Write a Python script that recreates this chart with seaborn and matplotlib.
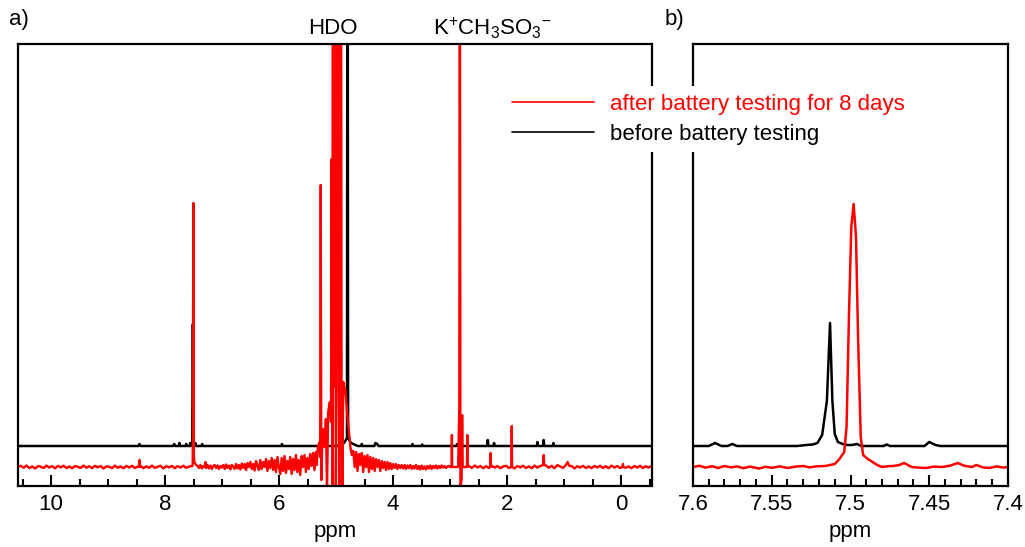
import numpy as np
import matplotlib
matplotlib.use("Agg")
import matplotlib.pyplot as plt
import matplotlib.transforms as mtransforms
from matplotlib.lines import Line2D
from matplotlib.ticker import MultipleLocator
import seaborn as sns

# ---------------- data (ppm, intensity relative to each trace's own baseline) ----------------
# panel a) full spectrum, before battery testing (black)
before_full = [
    (10.58, 0.00), (8.47, 0.00), (8.45, 0.02), (8.43, 0.00),
    (7.86, 0.00), (7.84, 0.02), (7.82, 0.00), (7.76, 0.00), (7.75, 0.03), (7.74, 0.00),
    (7.64, 0.00), (7.63, 0.02), (7.62, 0.00), (7.57, 0.00), (7.56, 0.03), (7.55, 0.00),
    (7.525, 0.01), (7.513, 1.22), (7.50, 0.01), (7.48, 0.00), (7.47, 0.03), (7.46, 0.00),
    (7.36, 0.00), (7.35, 0.02), (7.34, 0.00), (5.96, 0.00), (5.95, 0.02), (5.94, 0.00),
    (4.98, 0.00), (4.86, 0.03), (4.81, 0.08), (4.80, 8.00), (4.79, 0.08), (4.74, 0.03),
    (4.62, 0.00), (4.56, 0.00), (4.55, 0.02), (4.54, 0.00), (4.33, 0.00), (4.31, 0.03),
    (4.28, 0.02), (4.26, 0.00), (3.67, 0.00), (3.66, 0.02), (3.65, 0.00), (3.50, 0.00),
    (3.49, 0.015), (3.48, 0.00), (2.89, 0.00), (2.88, 0.02), (2.86, 0.00), (2.84, 0.03),
    (2.82, 0.00), (2.35, 0.00), (2.34, 0.06), (2.33, 0.00), (2.24, 0.00), (2.23, 0.03),
    (2.22, 0.00), (1.48, 0.00), (1.47, 0.04), (1.46, 0.00), (1.37, 0.00), (1.36, 0.06),
    (1.35, 0.00), (1.20, 0.00), (1.19, 0.03), (1.18, 0.00), (-0.54, 0.00),
]

# panel a) after battery testing (red): baseline noise,
# stored as (start ppm, ppm step, intensities) on the spectrometer's even grid
after_noise_a = (10.58, -0.05, [
    0.00, 0.012, -0.008, 0.015, -0.012, 0.006, -0.015, 0.010, 0.002, -0.010, 0.014, -0.006,
    0.009, -0.014, 0.011, -0.004, 0.013, -0.011, 0.005, -0.013, 0.010, 0.000, -0.009, 0.015,
    -0.007, 0.008, -0.012, 0.012, -0.003, 0.010, -0.015, 0.007, 0.001, -0.011, 0.014, -0.008,
    0.006, -0.013, 0.011, -0.005, 0.012, -0.010, 0.004])
after_noise_b = (8.43, -0.05, [
    0.010, -0.012, 0.006, -0.008, 0.014, -0.010, 0.003, 0.012, -0.014, 0.008, -0.004, 0.011,
    -0.012, 0.009, -0.006, 0.013, -0.009, 0.005, 0.010])
after_noise_c = (7.48, -0.025, [
    0.04, 0.02, 0.01, -0.01, 0.02, -0.015, 0.01, 0.00,
    -0.01, 0.02, -0.015, 0.015, -0.02, 0.01, 0.02, -0.01, 0.015, -0.02, 0.01, -0.005,
    0.02, -0.02, 0.025, -0.01, 0.015, -0.025, 0.02, 0.005, -0.02, 0.03, -0.015, 0.02,
    -0.025, 0.035, -0.01, 0.03, -0.03, 0.04, 0.00, 0.05, -0.02, 0.03, -0.035, 0.06,
    0.01, -0.03, 0.07, -0.02, 0.05, 0.00, 0.08, -0.04, 0.06, -0.01, 0.09, -0.03,
    0.07, -0.05, 0.10, 0.00, -0.07, 0.09, -0.04, 0.11, -0.06, 0.06, -0.02, 0.10,
    -0.07, 0.08, -0.03, 0.12, -0.05, 0.07, -0.08, 0.11, 0.00, 0.12, -0.05, 0.09,
    -0.02, 0.13, 0.01, 0.14, -0.03, 0.15])
after_noise_d = (4.75, -0.025, [
    0.20, 0.12, 0.16, 0.00, 0.15, -0.04, 0.13, 0.02, 0.14, -0.05, 0.11, 0.00,
    0.12, -0.05, 0.10, -0.02, 0.09, -0.04, 0.08, 0.00, 0.07, -0.04, 0.06, -0.01,
    0.05, -0.03, 0.05, -0.02, 0.04, -0.02, 0.03, -0.01, 0.03, -0.02, 0.02, -0.01,
    0.02, -0.015, 0.02, -0.02, 0.015, -0.01, 0.02, -0.02, 0.01, -0.015, 0.02, -0.02,
    0.01, -0.025, 0.015, -0.02, 0.005, -0.025, 0.01, -0.015, 0.015, -0.02, 0.01, -0.01,
    0.015, -0.015, 0.01, -0.01, 0.015, -0.005, 0.01, -0.01, 0.005, 0.01, 0.00])
after_noise_e = (2.67, -0.05, [
    0.01, -0.01, 0.015, -0.005, 0.01, -0.012, 0.008, -0.01, 0.012, -0.006,
    0.01, -0.012, 0.006, 0.012, -0.01, 0.008, -0.014, 0.01, -0.004, 0.012,
    -0.01, 0.006, -0.012, 0.014, -0.006, 0.01, -0.01, 0.016, -0.008, 0.012,
    -0.012, 0.02, 0.005, -0.01, 0.012, -0.008, 0.01, -0.014, 0.008, -0.006,
    0.012, -0.01, 0.006, -0.012, 0.01, -0.004, 0.012, -0.01, 0.008, -0.012,
    0.014, -0.006, 0.01, -0.01, 0.012, -0.008, 0.006, -0.012, 0.01, -0.005,
    0.012, -0.01, 0.008, -0.006, 0.01])

# red peaks (explicit vertices)
after_peaks = [
    [(8.46, 0.00), (8.45, 0.07), (8.44, 0.00)],
    [(7.52, 0.01), (7.515, 0.05), (7.505, 2.64), (7.495, 0.12), (7.488, 0.05)],
    [(7.295, 0.00), (7.29, 0.05), (7.285, 0.00)],
    [(5.34, 0.02), (5.32, 0.20), (5.29, 0.25), (5.28, 0.10), (5.27, 2.82), (5.26, -0.13),
     (5.24, 0.30), (5.22, 0.38), (5.20, 0.20), (5.18, 0.48), (5.16, -0.25), (5.14, 0.55),
     (5.11, 0.65), (5.09, 0.45), (5.08, 3.08), (5.07, 0.70), (5.065, -0.25), (5.06, 6.00),
     (5.045, 6.00), (5.035, 0.80), (5.02, 6.00), (5.005, -0.25), (4.99, 0.90), (4.975, 6.00),
     (4.96, 6.00), (4.945, -0.25), (4.93, 6.00), (4.915, 6.00), (4.905, 0.90), (4.89, -0.20),
     (4.875, 0.85), (4.84, 0.77), (4.80, 0.50), (4.77, 0.32)],
    [(2.975, 0.00), (2.97, 0.32), (2.965, 0.00)],
    [(2.86, 0.00), (2.84, 0.60), (2.83, 6.00), (2.82, -0.20), (2.80, -0.13), (2.79, 0.52),
     (2.78, 0.00)],
    [(2.705, 0.00), (2.70, 0.32), (2.695, 0.00)],
    [(2.295, 0.00), (2.29, 0.14), (2.285, 0.00)],
    [(1.925, 0.00), (1.92, 0.41), (1.915, 0.00)],
    [(1.37, 0.02), (1.36, 0.12), (1.35, 0.02)],
    [(0.97, 0.02), (0.94, 0.05), (0.91, 0.01)],
    [(-0.02, 0.00), (-0.03, 0.03), (-0.04, 0.00)],
]

# panel b) zoom 7.6-7.4 ppm
before_zoom = [
    (7.600, 0.000), (7.590, 0.000), (7.586, 0.030), (7.582, 0.000), (7.578, 0.000),
    (7.575, 0.020), (7.572, 0.000), (7.534, 0.000), (7.528, 0.010), (7.524, 0.015),
    (7.521, 0.030), (7.518, 0.110), (7.515, 0.450), (7.513, 1.230), (7.5115, 0.450),
    (7.510, 0.120), (7.508, 0.040), (7.505, 0.020), (7.502, 0.010), (7.499, 0.010),
    (7.496, 0.020), (7.493, 0.000), (7.479, 0.000), (7.477, 0.015), (7.475, 0.000),
    (7.453, 0.000), (7.450, 0.040), (7.446, 0.010), (7.443, 0.000), (7.400, 0.000),
]
after_zoom = [
    (7.600, 0.000), (7.596, 0.012), (7.592, -0.006), (7.588, 0.008), (7.584, -0.010),
    (7.580, 0.010), (7.576, -0.004), (7.572, 0.006), (7.568, -0.012), (7.564, 0.004),
    (7.558, -0.015), (7.554, 0.002), (7.550, -0.008), (7.545, 0.006), (7.540, -0.010),
    (7.535, 0.004), (7.530, 0.010), (7.526, -0.004), (7.522, 0.006), (7.516, 0.010),
    (7.510, 0.030), (7.507, 0.080), (7.504, 0.150), (7.5025, 0.400), (7.501, 1.500),
    (7.4995, 2.400), (7.498, 2.630), (7.4965, 2.300), (7.4952, 1.300), (7.4935, 0.300),
    (7.492, 0.120), (7.489, 0.080), (7.486, 0.050), (7.483, 0.020), (7.480, 0.000),
    (7.476, 0.008), (7.473, 0.010), (7.469, 0.020), (7.466, 0.040), (7.463, 0.015),
    (7.461, 0.000), (7.457, -0.006), (7.452, -0.010), (7.447, 0.004), (7.442, 0.000),
    (7.437, 0.012), (7.432, 0.040), (7.429, 0.020), (7.427, 0.010), (7.423, 0.000),
    (7.420, 0.020), (7.416, -0.004), (7.412, -0.010), (7.407, 0.006), (7.403, -0.006),
    (7.400, 0.000),
]

legend_labels = ["after battery testing for 8 days", "before battery testing"]
x_ticks_a = [10, 8, 6, 4, 2, 0]
x_ticks_b = [7.6, 7.55, 7.5, 7.45, 7.4]

# ---------------- style ----------------
sns.set_style("white")
plt.rcParams["font.family"] = ["Liberation Sans", "DejaVu Sans"]
plt.rcParams["mathtext.fontset"] = "custom"
plt.rcParams["mathtext.rm"] = "Liberation Sans"
plt.rcParams["mathtext.it"] = "Liberation Sans:italic"
plt.rcParams["mathtext.bf"] = "Liberation Sans:bold"
plt.rcParams["text.color"] = "black"
plt.rcParams["axes.labelcolor"] = "black"
plt.rcParams["xtick.color"] = "black"

RED = "#ff0000"
BLACK = "#000000"
RED_OFFSET = -0.21
FS = 16


def unzip(pairs, offset=0.0):
    x = np.array([p[0] for p in pairs], dtype=float)
    y = np.array([p[1] for p in pairs], dtype=float) + offset
    return x, y


def assemble(noise_segments, peaks):
    xs, ys = [], []
    windows = [(min(p[0] for p in pk), max(p[0] for p in pk)) for pk in peaks]
    for start, step, vals in noise_segments:
        for i, v in enumerate(vals):
            x = start + step * i
            if any(lo <= x <= hi for lo, hi in windows):
                continue
            xs.append(x)
            ys.append(v)
    for pk in peaks:
        for x, v in pk:
            xs.append(x)
            ys.append(v)
    order = np.argsort(-np.array(xs), kind="stable")
    return [(xs[i], ys[i]) for i in order]


after_full = assemble([after_noise_a, after_noise_b, after_noise_c, after_noise_d, after_noise_e],
                      after_peaks)

fig = plt.figure(figsize=(10.25, 5.47), dpi=100)
H = 547.0
W = 1025.0
bottom = (H - 486) / H
height = (486 - 44) / H
ax1 = fig.add_axes([18 / W, bottom, (652 - 18) / W, height])
ax2 = fig.add_axes([693 / W, bottom, (1008 - 693) / W, height])

for ax, bset, rset, lw_r in [(ax1, before_full, after_full, 1.7), (ax2, before_zoom, after_zoom, 1.8)]:
    bx, by = unzip(bset)
    rx, ry = unzip(rset, RED_OFFSET)
    sns.lineplot(x=bx, y=by, ax=ax, color=BLACK, lw=1.8, sort=False, estimator=None, legend=False)
    sns.lineplot(x=rx, y=ry, ax=ax, color=RED, lw=lw_r, sort=False, estimator=None, legend=False)
    ax.set_ylim(-0.40, 4.02)
    ax.set_yticks([])
    ax.set_ylabel("")
    for s in ax.spines.values():
        s.set_visible(True)
        s.set_linewidth(1.6)
        s.set_color("black")
    ax.tick_params(axis="x", which="both", direction="in", bottom=True, top=False,
                   labelsize=FS, width=1.5, pad=6, colors="black")
    ax.tick_params(axis="x", which="major", length=8)
    ax.tick_params(axis="x", which="minor", length=5)
    ax.set_xlabel("ppm", fontsize=FS, labelpad=4)

ax1.set_xlim(10.58, -0.54)
ax1.set_xticks(x_ticks_a)
ax1.set_xticklabels([str(t) for t in x_ticks_a])
ax1.xaxis.set_minor_locator(MultipleLocator(0.5))

ax2.set_xlim(7.6, 7.4)
ax2.set_xticks(x_ticks_b)
ax2.set_xticklabels([f"{t:g}" for t in x_ticks_b])
ax2.xaxis.set_minor_locator(MultipleLocator(0.01))

# annotations
trans = mtransforms.blended_transform_factory(ax1.transData, fig.transFigure)
ax1.text(5.05, 1 - 28 / H, "HDO", transform=trans, ha="center", va="center", fontsize=FS)
ax1.text(2.27, 1 - 28 / H, r"K$^{+}$CH$_3$SO$_3$$^{-}$", transform=trans, ha="center",
         va="center", fontsize=FS)
fig.text(9 / W, 1 - 20 / H, "a)", ha="left", va="center", fontsize=FS)
fig.text(665 / W, 1 - 20 / H, "b)", ha="left", va="center", fontsize=FS)

# legend over both panels
handles = [Line2D([], [], color=RED, lw=1.2), Line2D([], [], color=BLACK, lw=1.2)]
leg = fig.legend(handles, legend_labels, loc="upper left", bbox_to_anchor=(504 / W, 1 - 86 / H),
                 bbox_transform=fig.transFigure, fontsize=FS, frameon=True, fancybox=False,
                 facecolor="white", edgecolor="none", framealpha=1.0, borderpad=0.35,
                 borderaxespad=0.0, handlelength=3.7, handletextpad=0.7, labelspacing=0.4)
leg.get_texts()[0].set_color(RED)
leg.get_texts()[1].set_color(BLACK)

fig.savefig("out.png", dpi=100)
